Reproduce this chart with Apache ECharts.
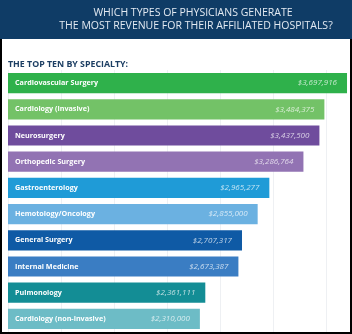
<!DOCTYPE html>
<html><head><meta charset="utf-8">
<script src="https://cdn.jsdelivr.net/npm/echarts@6/dist/echarts.min.js"></script>
<style>html,body{margin:0;padding:0;background:#fff}#c{width:352px;height:334px}</style>
</head><body><div id="c"></div>
<script>
const categories = ["Cardiovascular Surgery","Cardiology (invasive)","Neurosurgery","Orthopedic Surgery","Gastroenterology","Hemotology/Oncology","General Surgery","Internal Medicine","Pulmonology","Cardiology (non-invasive)"];
const revenue = [3697916,3484375,3437500,3286764,2965277,2855000,2707317,2673387,2361111,2310000];
const barColors = ["#2fb14b","#73c267","#6f4c9d","#9273b3","#1f9bd7","#6bb1e1","#0f5aa5","#3a7dc3","#138d95","#6dbcc6"];
const titleLines = ["WHICH TYPES OF PHYSICIANS GENERATE","THE MOST REVENUE FOR THEIR AFFILIATED HOSPITALS?"];
const subtitle = "THE TOP TEN BY SPECIALTY:";

const fmt = v => "$" + v.toLocaleString("en-US");
const chart = echarts.init(document.getElementById('c'), null, {renderer:'canvas'});
chart.setOption({
  animation:false,
  grid:{left:8,right:2,top:70,bottom:2,containLabel:false},
  xAxis:{type:'value',min:500000,max:3726000,interval:500000,
    axisLabel:{show:false},axisLine:{show:false},axisTick:{show:false},
    splitLine:{lineStyle:{color:'#eef0f3',width:1}}},
  yAxis:{type:'category',data:categories,inverse:true,show:false},
  series:[
    {type:'bar',data:revenue.map((v,i)=>({value:v,itemStyle:{color:barColors[i]}})),
     barCategoryGap:'23%',barGap:'-100%',
     label:{show:true,position:'insideLeft',distance:7,formatter:p=>p.name,
       color:'#ffffff',fontFamily:'Open Sans',fontWeight:'bold',fontSize:7.2}},
    {type:'bar',data:revenue,barCategoryGap:'23%',barGap:'-100%',
     itemStyle:{color:'rgba(0,0,0,0)'},silent:true,
     label:{show:true,position:'insideRight',distance:10,formatter:p=>fmt(p.value),
       color:'rgba(255,255,255,0.72)',fontFamily:'Open Sans',fontStyle:'italic',fontSize:8}}
  ],
  graphic:[
    {type:'rect',left:0,top:0,shape:{width:352,height:39},style:{fill:'#0f3c66'}},
    {type:'text',x:193,y:13,style:{text:titleLines[0],fill:'#e3eaf2',font:'10.5px "Open Sans"',align:'center',verticalAlign:'middle'}},
    {type:'text',x:196,y:26.5,style:{text:titleLines[1],fill:'#e3eaf2',font:'10.5px "Open Sans"',align:'center',verticalAlign:'middle'}},
    {type:'text',x:8,y:64.5,style:{text:subtitle,fill:'#1c3e63',font:'bold 8.8px "Open Sans"',align:'left',verticalAlign:'middle'}},
    {type:'polyline',z:100,shape:{points:[[1,39],[1,333],[351,333],[351,39]]},style:{fill:'none',stroke:'#000',lineWidth:2}}
  ]
});
</script></body></html>
